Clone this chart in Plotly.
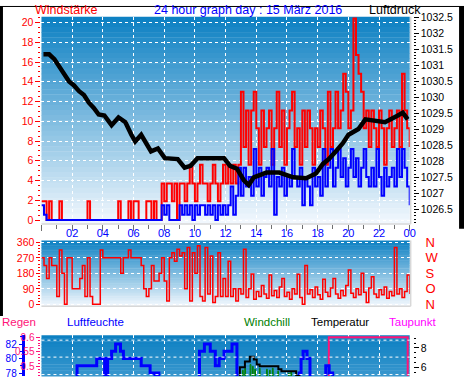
import plotly.graph_objects as go

# ------------------------------------------------------------------ data
# 10-minute samples, 00:00 .. 24:00 (hours)
slot_hours = [i / 6 for i in range(145)]

# Windstärke: gust (red) and average (blue), km/h
gust_kmh = [
    1.9, 1.9, 0, 1.9, 0, 0, 0, 1.9, 0, 0,
    0, 0, 0, 0, 0, 0, 0, 0, 1.9, 0,
    0, 0, 0, 0, 0, 0, 0, 0, 0, 0,
    1.9, 0, 0, 0, 1.9, 0, 1.9, 1.9, 0, 0,
    0, 1.9, 1.9, 0, 1.9, 0, 0,
    3.7, 1.9, 3.7, 3.7, 1.9, 3.7, 0, 3.7, 3.7, 1.9, 3.7,
    5.6, 3.7, 1.9, 3.7, 5.6, 3.7, 3.7, 1.9, 3.7, 5.6, 3.7, 1.9, 3.7, 5.6, 3.7,
    5.6, 3.7, 5.6, 3.7, 5.6,
    13.0, 7.4, 11.1, 5.6, 11.1, 13.0, 9.3, 5.6, 11.1, 7.4,
    9.3, 11.1, 5.6, 9.3, 13.0, 7.4, 11.1, 5.6, 9.3, 11.1,
    13.0, 7.4, 9.3, 5.6, 11.1, 7.4, 11.1, 9.3, 5.6, 9.3,
    7.4, 11.1, 9.3, 5.6, 13.0, 7.4, 9.3, 13.0, 9.3, 11.1,
    14.8, 13.0, 9.3, 11.1, 20.4, 16.7, 14.8, 13.0, 9.3, 11.1,
    7.4, 11.1, 9.3, 7.4, 11.1, 9.3, 5.6, 9.3, 11.1, 7.4,
    9.3, 11.1, 7.4, 14.8, 11.1, 9.3, 7.4,
]
avg_kmh = [
    1.5, 0.55, 0, 0, 0, 0, 0, 0, 0, 0,
    0, 0, 0, 0, 0, 0, 0, 0, 0, 0,
    0, 0, 0, 0, 0, 0, 0, 0, 0, 0,
    0, 0, 0, 0, 0, 0, 0, 0, 0, 0,
    0, 0, 0, 0, 0, 0, 0,
    1.5, 0.55, 1.5, 0, 0, 0, 0, 1.5, 0.55, 1.5,
    0.55, 1.5, 0, 1.5, 0.55, 1.5, 1.5, 0.55, 1.5, 0.55,
    1.5, 0, 1.5, 0.55, 1.5, 0.55, 1.5, 3.4, 0.55, 2.45, 5.3,
    2.45, 5.3, 3.4, 4.35, 2.45, 7.2, 3.4, 5.3, 2.45, 4.35,
    5.3, 3.4, 7.2, 0.55, 4.35, 3.4, 5.3, 2.45, 4.35, 3.4,
    7.2, 4.35, 3.4, 5.3, 1.5, 4.35, 3.4, 1.5, 5.3, 3.4,
    4.35, 2.45, 7.2, 3.4, 5.3, 7.2, 3.4, 5.3, 7.2, 4.35,
    6.25, 3.4, 5.3, 7.2, 4.35, 6.25, 3.4, 5.3, 7.2, 4.35,
    3.4, 5.3, 3.4, 7.2, 4.35, 2.45, 5.3, 3.4, 4.35, 5.3,
    3.4, 7.2, 4.35, 7.2, 5.3, 3.4, 1.5,
]

# Windrichtung (degrees)
wind_dir_deg = [
    270, 225, 150, 270, 225, 225, 45, 315, 180, 0,
    270, 270, 90, 90, 90, 150, 225, 45, 270, 45,
    0, 0, 0, 315, 270, 270, 270, 270, 270, 270,
    270, 180, 270, 270, 315, 270, 270, 270, 270, 225,
    90, 45, 90, 225, 135, 135, 180, 270, 135, 20,
    270, 300, 250, 320, 280, 300,
    90, 330, 20, 300, 180, 340, 45, 20, 330, 60,
    280, 10, 45, 300, 45, 150, 45, 250, 45, 90, 20, 90,
    60, 320, 40, 90, 176, 30, 75, 45, 110, 60,
    35, 170, 50, 80, 40, 100, 150, 45, 70, 30,
    90, 60, 175, 40, 0, 225, 60, 85, 40, 100,
    55, 30, 145, 70, 45, 95, 150, 60, 35, 80,
    50, 110, 200, 65, 40, 90, 55, 180, 70, 11,
    95, 160, 60, 40, 85, 55, 100, 35, 75, 50,
    330, 60, 90, 40, 75, 170, 60,
]

# Luftdruck (hPa)
pressure_hours = [0.13, 0.5, 0.84, 1.16, 1.48, 1.8, 2.12, 2.45, 2.77, 3.09,
                  3.41, 3.73, 4.1, 4.57, 5.02, 5.47, 5.86, 6.11, 6.5, 7.14,
                  7.59, 8.04, 8.88, 9.33, 9.72, 10.17, 11.0, 11.9, 12.29, 12.74,
                  13.19, 13.51, 13.84, 14.67, 15.5, 16.41, 17.25, 17.89, 18.34, 18.73,
                  19.18, 19.63, 20.01, 20.66, 21.11, 21.56, 22.39, 23.23, 23.55, 23.87]
pressure_hpa = [1031.34, 1031.34, 1031.19, 1030.97, 1030.73, 1030.49, 1030.37, 1030.19, 1030.07, 1029.83,
                1029.67, 1029.46, 1029.43, 1029.13, 1029.37, 1029.22, 1028.83, 1028.62, 1028.83, 1028.31,
                1028.40, 1028.10, 1028.07, 1027.80, 1027.86, 1028.10, 1028.10, 1028.10, 1027.86, 1027.77,
                1027.41, 1027.26, 1027.50, 1027.65, 1027.65, 1027.50, 1027.47, 1027.62, 1027.92, 1028.07,
                1028.31, 1028.56, 1028.83, 1029.01, 1029.31, 1029.28, 1029.22, 1029.43, 1029.52, 1029.31]

# Luftfeuchte (%)
humid_hours = [0, 2.32, 3.6, 4.12, 4.31, 4.57, 4.83, 5.15, 5.34, 6.5, 7.08, 7.4, 7.5, 7.65,
               10.3, 10.62, 11.0, 11.33, 11.58, 11.9, 12.42, 12.74,
               16.8, 16.92, 17.05, 17.31, 17.5, 18.53, 18.75, 18.98]
humid_pct = [76, 79, 80, 76, 80, 81, 82, 81, 80, 79, 78, 77, 78, 76,
             81, 82, 81, 79, 80, 81, 82, 76,
             78, 80, 81, 80, 76, 79, 78, 76]

# Regen (mm)
rain_hours = [0, 18.73, 23.87]
rain_mm = [0.0, 0.6, 0.0]

# Temperatur (°C)
temp_hours = [12.7, 12.93, 13.26, 13.58, 13.84, 14.03, 14.22, 15.44, 15.64, 16.6, 16.8]
temp_c = [4.5, 6.0, 6.6, 7.1, 6.8, 6.3, 6.1, 5.8, 5.6, 5.1, 4.5]

# Windchill (°C)
chill_hours = [12.9, 13.1, 13.15, 13.25, 13.3, 13.6, 13.65, 13.75, 13.8, 13.9, 13.95,
               14.2, 14.25, 14.67, 14.72, 14.86, 14.91, 15.05, 15.1, 15.4, 15.45,
               16.1, 16.15, 16.25, 16.3]
chill_c = [4.5, 5.7, 4.5, 5.9, 4.5, 6.3, 4.5, 6.1, 4.5, 5.8, 4.5,
           5.9, 4.5, 5.8, 4.5, 5.7, 4.5, 5.9, 4.5, 5.6, 4.5,
           5.4, 4.5, 5.5, 4.5]

hour_ticks = [2, 4, 6, 8, 10, 12, 14, 16, 18, 20, 22, 24]
hour_labels = ["02", "04", "06", "08", "10", "12", "14", "16", "18", "20", "22", "00"]
dir_ticks = [0, 90, 180, 270, 360]
dir_letters = ["N", "O", "S", "W", "N"]

# ------------------------------------------------------------------ layout helpers
W, H = 470, 382
def fx(px):
    return px / W
def fy(py):
    return 1 - py / H

X0, X1 = 42, 415
P1 = (11, 225)
P2 = (242, 310)
P3 = (340, 382)
FONT = "Liberation Sans, Arial, sans-serif"
RAIN_COL = "#ff1478"

fig = go.Figure()

fig.add_trace(go.Scatter(x=slot_hours, y=gust_kmh, mode="lines", line=dict(color="#ff0000", width=2, shape="hv"),
                         xaxis="x", yaxis="y", hoverinfo="skip"))
fig.add_trace(go.Scatter(x=slot_hours, y=avg_kmh, mode="lines", line=dict(color="#0000ff", width=2, shape="hv"),
                         xaxis="x", yaxis="y", hoverinfo="skip"))
fig.add_trace(go.Scatter(x=pressure_hours, y=pressure_hpa, mode="lines", line=dict(color="#000000", width=4.5),
                         xaxis="x", yaxis="y2", hoverinfo="skip"))
fig.add_trace(go.Scatter(x=slot_hours, y=wind_dir_deg, mode="lines", line=dict(color="#ff0000", width=1.5, shape="hv"),
                         xaxis="x2", yaxis="y3", hoverinfo="skip"))
# empty trace so that the compass-letter axis is drawn
fig.add_trace(go.Scatter(x=[None], y=[None], mode="lines", xaxis="x2", yaxis="y7", hoverinfo="skip"))
fig.add_trace(go.Scatter(x=chill_hours, y=chill_c, mode="lines", line=dict(color="#008000", width=1, shape="hv"),
                         xaxis="x3", yaxis="y6", hoverinfo="skip"))
fig.add_trace(go.Scatter(x=temp_hours, y=temp_c, mode="lines", line=dict(color="#000000", width=2, shape="hv"),
                         xaxis="x3", yaxis="y6", hoverinfo="skip"))
fig.add_trace(go.Scatter(x=humid_hours, y=humid_pct, mode="lines", line=dict(color="#0000ff", width=3, shape="hv"),
                         xaxis="x3", yaxis="y5", hoverinfo="skip"))
fig.add_trace(go.Scatter(x=rain_hours, y=rain_mm, mode="lines", line=dict(color=RAIN_COL, width=2, shape="hv"),
                         xaxis="x3", yaxis="y4", hoverinfo="skip"))

# ------------------------------------------------------------------ gradient backgrounds
shapes = []
def lerp(c0, c1, t):
    return "rgb(%d,%d,%d)" % tuple(round(a + (b - a) * t) for a, b in zip(c0, c1))
TOP = (11, 127, 194)
BOT = (244, 249, 254)
def gradient(y0, y1, full_h, n=40):
    step = (y1 - y0) / n
    for i in range(n):
        ya = y0 + i * step
        t = (i * step + step / 2) / full_h
        shapes.append(dict(type="rect", xref="paper", yref="paper", layer="below",
                           x0=fx(X0), x1=fx(X1), y0=fy(ya + step + 0.5), y1=fy(ya),
                           line=dict(width=0), fillcolor=lerp(TOP, BOT, min(t, 1))))
gradient(P1[0], P1[1], P1[1] - P1[0])
gradient(P2[0], P2[1], P2[1] - P2[0])
gradient(P3[0], P3[1], 214, n=14)

# light frame on right/bottom of panels 1 and 2
for (ya, yb) in (P1, P2):
    shapes.append(dict(type="line", xref="paper", yref="paper", x0=fx(X0), x1=fx(X1 + 1), y0=fy(yb), y1=fy(yb),
                       line=dict(color="#d8d8d8", width=1.5)))
    shapes.append(dict(type="line", xref="paper", yref="paper", x0=fx(X1 + 1), x1=fx(X1 + 1), y0=fy(ya), y1=fy(yb),
                       line=dict(color="#d8d8d8", width=1.5)))
# panel 3 horizontal dotted grid
for gy in (345, 362.5, 380.5):
    shapes.append(dict(type="line", xref="paper", yref="paper", x0=fx(X0), x1=fx(X1), y0=fy(gy), y1=fy(gy),
                       line=dict(color="white", width=1, dash="dot")))
# black frame
shapes.append(dict(type="rect", xref="paper", yref="paper", x0=0, x1=fx(3), y0=fy(320), y1=1,
                   line=dict(width=0), fillcolor="black"))
shapes.append(dict(type="line", xref="paper", yref="paper", x0=0, x1=1, y0=fy(0.5), y1=fy(0.5),
                   line=dict(color="black", width=1)))
shapes.append(dict(type="rect", xref="paper", yref="paper", x0=fx(465), x1=1, y0=fy(230), y1=1,
                   line=dict(width=0), fillcolor="black"))

# ------------------------------------------------------------------ annotations
def label(text, x, y, color, anchor="left", size=11.5):
    return dict(text=text, x=fx(x), y=fy(y), xref="paper", yref="paper", xanchor=anchor, yanchor="middle",
                showarrow=False, font=dict(family=FONT, size=size, color=color))
annotations = [
    label("Windstärke", 33, 4, "#ff0000", size=12.5),
    label("24 hour graph day : 15 März 2016", 251, 4, "#0000ff", "center", size=12.5),
    label("Luftdruck", 372, 4, "#000000", size=12.5),
    label("Regen", 0, 326, RAIN_COL),
    label("Luftfeuchte", 66, 326, "#0000ff"),
    label("Windchill", 245, 326, "#008000"),
    label("Temperatur", 313, 326, "#000000"),
    label("Taupunkt", 392, 326, "#ff00ff"),
]

tickfont = lambda c, s=10.5: dict(family=FONT, size=s, color=c)
grid = dict(showgrid=True, gridcolor="white", griddash="dot", gridwidth=1)

fig.update_layout(
    width=W, height=H, margin=dict(l=0, r=0, t=0, b=0),
    paper_bgcolor="white", plot_bgcolor="rgba(0,0,0,0)", showlegend=False,
    shapes=shapes, annotations=annotations,
    xaxis=dict(domain=[fx(X0), fx(X1)], anchor="y", range=[0, 24], tickvals=[0] + hour_ticks,
               showticklabels=False, ticks="outside", ticklen=6, tickcolor="#707070",
               minor=dict(dtick=1, tick0=0, ticks="outside", ticklen=4, tickcolor="#707070", showgrid=False),
               zeroline=False, showline=False, **grid),
    yaxis=dict(domain=[fy(P1[1]), fy(P1[0])], anchor="x", range=[-0.39, 20.59],
               tickvals=list(range(0, 21, 2)), tickfont=tickfont("#ff0000"),
               ticks="outside", ticklen=5, tickcolor="#ff0000",
               minor=dict(dtick=0.5, tick0=0, ticks="outside", ticklen=2, tickcolor="#ff0000", showgrid=False),
               zeroline=False, showline=False, **grid),
    yaxis2=dict(overlaying="y", side="right", anchor="free", position=fx(418), range=[1026.047, 1032.515],
                tickvals=[1026.5, 1027, 1027.5, 1028, 1028.5, 1029, 1029.5, 1030, 1030.5, 1031, 1031.5, 1032, 1032.5],
                ticktext=["1026.5", "1027", "1027.5", "1028", "1028.5", "1029", "1029.5", "1030", "1030.5",
                          "1031", "1031.5", "1032", "1032.5"],
                tickfont=tickfont("#000000"), ticks="outside", ticklen=5, tickcolor="#000000",
                minor=dict(dtick=0.1, tick0=1026, ticks="outside", ticklen=2, tickcolor="#000000"),
                showgrid=False, zeroline=False, showline=False),
    xaxis2=dict(domain=[fx(X0), fx(X1)], anchor="y3", side="top", range=[0, 24], tickvals=hour_ticks,
                ticktext=hour_labels, tickfont=tickfont("#0000ff", 11), ticks="", showgrid=False,
                zeroline=False, showline=False),
    yaxis3=dict(domain=[fy(P2[1]), fy(P2[0])], anchor="x2", range=[-11.25, 371.25], tickvals=dir_ticks,
                tickfont=tickfont("#ff0000"), ticks="outside", ticklen=4, tickcolor="#ff0000",
                minor=dict(dtick=18, tick0=0, ticks="outside", ticklen=2, tickcolor="#ff0000", showgrid=False),
                zeroline=False, showline=False, **grid),
    yaxis7=dict(overlaying="y3", side="right", anchor="free", position=fx(430), range=[-11.25, 371.25],
                tickvals=dir_ticks, ticktext=dir_letters, ticks="",
                tickfont=dict(family=FONT, size=13, color="#ff0000"), showgrid=False, zeroline=False,
                showline=False),
    xaxis3=dict(domain=[fx(X0), fx(X1)], anchor="y4", range=[0, 24], dtick=2, tick0=0,
                showticklabels=False, ticks="", zeroline=False, showline=False, **grid),
    yaxis4=dict(domain=[0, fy(P3[0])], anchor="x3", range=[0.4667, 0.6067], tickvals=[0.5, 0.55, 0.6],
                ticktext=["0.5", "0.55", "0.6"], tickfont=tickfont(RAIN_COL, 10), ticks="outside", ticklen=4,
                tickcolor=RAIN_COL,
                minor=dict(dtick=0.01, tick0=0, ticks="outside", ticklen=2, tickcolor=RAIN_COL),
                showgrid=False, zeroline=False, showline=False),
    yaxis5=dict(overlaying="y4", side="left", anchor="free", position=fx(23), range=[77.6, 83.2],
                tickvals=[78, 80, 82], tickfont=tickfont("#0000ff", 10), ticks="outside", ticklen=3,
                tickcolor="#0000ff", minor=dict(dtick=1, tick0=0, ticks="outside", ticklen=2, tickcolor="#0000ff"),
                showline=True, linecolor="#0000ff", linewidth=3, showgrid=False, zeroline=False),
    yaxis6=dict(overlaying="y4", side="right", anchor="free", position=fx(418), range=[5.1, 9.3],
                tickvals=[6, 8], tickfont=tickfont("#000000"), ticks="outside", ticklen=5, tickcolor="#000000",
                minor=dict(dtick=0.5, tick0=0, ticks="outside", ticklen=2, tickcolor="#000000"),
                showgrid=False, zeroline=False, showline=False),
)

fig.write_html("out.html", config={"displayModeBar": False},
               post_script="document.body.style.margin='0px';document.body.style.overflow='hidden';")
